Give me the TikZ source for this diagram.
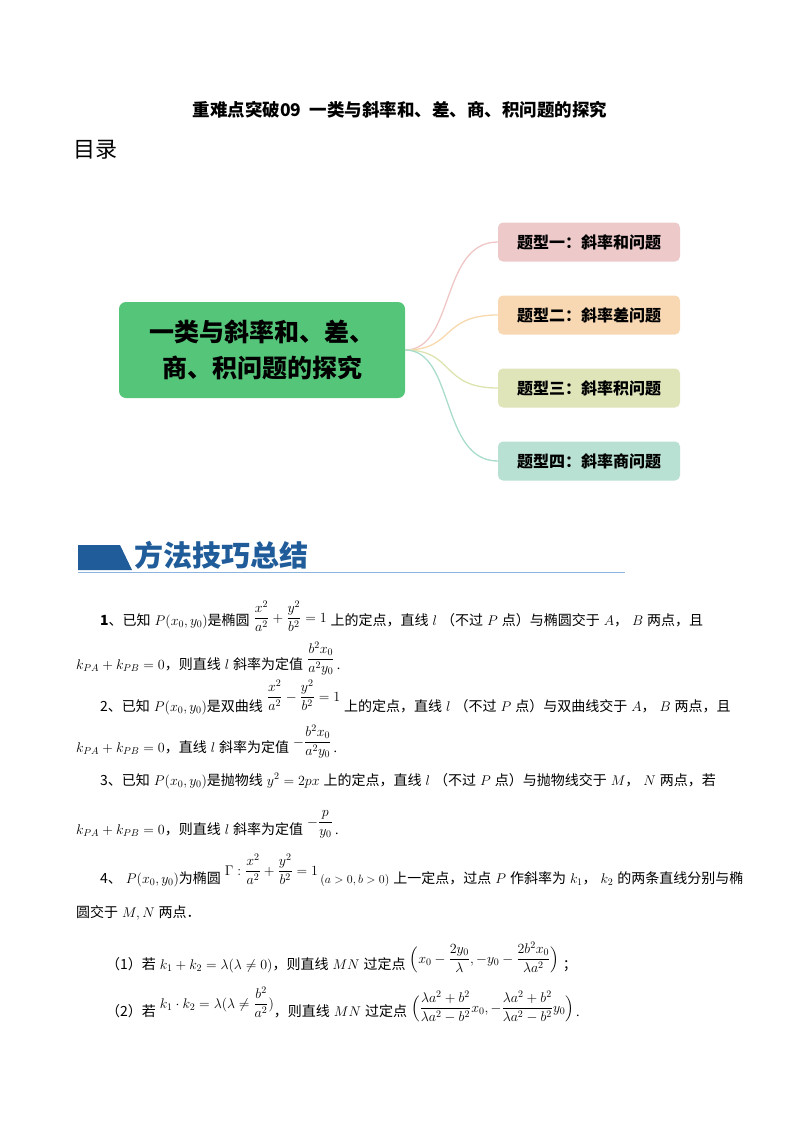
\documentclass[tikz,border=0pt]{standalone}
\usepackage{fix-cm}
\usepackage{amsmath}
\usepackage{fontspec}
\setmainfont{Liberation Serif}
\newfontfamily\cjk{Noto Sans CJK SC}
\newcommand{\zh}[1]{{\cjk #1}}
\newcommand{\gp}{\hspace{4pt}}
\DeclareMathSizes{14}{14}{10}{8}
\usetikzlibrary{positioning}
\definecolor{gbox}{HTML}{55C57A}
\definecolor{b1}{HTML}{EDC9CA}\definecolor{l1}{HTML}{F0C6C6}
\definecolor{b2}{HTML}{F8D8B3}\definecolor{l2}{HTML}{F8D9AE}
\definecolor{b3}{HTML}{DFE4B9}\definecolor{l3}{HTML}{DDE3AE}
\definecolor{b4}{HTML}{B8E0D3}\definecolor{l4}{HTML}{A9DCCC}
\definecolor{hblue}{HTML}{1F5C99}
\definecolor{hline}{HTML}{8DB4E0}
\begin{document}
\begin{tikzpicture}[x=1pt,y=-1pt,
  topic/.style={rounded corners=5pt,minimum width=182pt,minimum height=39pt,font=\cjk\bfseries\fontsize{16}{18}\selectfont},
  link/.style={line width=1.3pt},
  body/.style={anchor=base west,inner sep=0pt,font=\fontsize{14}{16}\selectfont}]
\useasboundingbox (0,0) rectangle (800,1132);
\node (title) at (400,110) {\cjk\bfseries\fontsize{17.5}{20}\selectfont 重难点突破09\ \ 一类与斜率和、差、商、积问题的探究};
\node[anchor=west] (ml) at (70,150) {\cjk\fontsize{22}{24}\selectfont 目录};
\node[fill=gbox,rounded corners=7pt,minimum width=286pt,minimum height=96pt,align=center,font=\cjk\bfseries\fontsize{25}{36}\selectfont] (c) at (262,350) {一类与斜率和、差、\\商、积问题的探究};
\node[topic,fill=b1] (t1) at (589,242) {题型一：斜率和问题};
\node[topic,fill=b2] (t2) at (589,315) {题型二：斜率差问题};
\node[topic,fill=b3] (t3) at (589,388) {题型三：斜率积问题};
\node[topic,fill=b4] (t4) at (589,461) {题型四：斜率商问题};
\coordinate (o) at (c.east);
\draw[link,l1] (o) .. controls (455,350) and (440,242) .. (t1.west);
\draw[link,l2] (o) .. controls (455,350) and (440,315) .. (t2.west);
\draw[link,l3] (o) .. controls (455,350) and (440,388) .. (t3.west);
\draw[link,l4] (o) .. controls (455,350) and (440,461) .. (t4.west);
% header
\fill[hblue] (78,545) -- (120,545) -- (132,570) -- (78,570) -- cycle;
\draw[hline,line width=1pt] (78,572) -- (625,572);
\node[anchor=base west,inner sep=0pt,text=hblue] (hd) at (134,566) {\cjk\bfseries\fontsize{29}{30}\selectfont 方法技巧总结};
% body
\node[body] (l1) at (100,625) {\zh{\textbf{1}、已知}\gp$P(x_0,y_0)$\zh{是椭圆}\gp\raisebox{3pt}{$\dfrac{x^2}{a^2}+\dfrac{y^2}{b^2}=1$}\gp\zh{上的定点，直线}\gp$l$\gp\zh{（不过}\gp$P$\gp\zh{点）与椭圆交于}\gp$A$\zh{，}\gp$B$\gp\zh{两点，且}};
\node[body] (l2) at (76,669) {$k_{PA}+k_{PB}=0$\zh{，则直线}\gp$l$\gp\zh{斜率为定值}\gp\raisebox{6pt}{$\dfrac{b^2x_0}{a^2y_0}$}\,.};
\node[body] (l3) at (100,711) {\zh{2、已知}\gp$P(x_0,y_0)$\zh{是双曲线}\gp\raisebox{10pt}{$\dfrac{x^2}{a^2}-\dfrac{y^2}{b^2}=1$}\gp\zh{上的定点，直线}\gp$l$\gp\zh{（不过}\gp$P$\gp\zh{点）与双曲线交于}\gp$A$\zh{，}\gp$B$\gp\zh{两点，且}};
\node[body] (l4) at (76,752) {$k_{PA}+k_{PB}=0$\zh{，直线}\gp$l$\gp\zh{斜率为定值}\gp\raisebox{6pt}{$-\dfrac{b^2x_0}{a^2y_0}$}\,.};
\node[body] (l5) at (100,785) {\zh{3、已知}\gp$P(x_0,y_0)$\zh{是抛物线}\gp$y^2=2px$\gp\zh{上的定点，直线}\gp$l$\gp\zh{（不过}\gp$P$\gp\zh{点）与抛物线交于}\gp$M$\zh{，}\gp$N$\gp\zh{两点，若}};
\node[body] (l6) at (76,834) {$k_{PA}+k_{PB}=0$\zh{，则直线}\gp$l$\gp\zh{斜率为定值}\gp\raisebox{8pt}{$-\dfrac{p}{y_0}$}\,.};
\node[body] (l7) at (100,883) {\zh{4、}\gp$P(x_0,y_0)$\zh{为椭圆}\gp\raisebox{8pt}{$\Gamma:\dfrac{x^2}{a^2}+\dfrac{y^2}{b^2}=1$}\,{\fontsize{12}{13}\selectfont$(a>0,b>0)$}\gp\zh{上一定点，过点}\gp$P$\gp\zh{作斜率为}\gp$k_1$\zh{，}\gp$k_2$\gp\zh{的两条直线分别与椭}};
\node[body] (l8) at (76,917) {\zh{圆交于}\gp$M,N$\gp\zh{两点．}};
\node[body] (l9) at (106,969) {\zh{（1）若}\gp$k_1+k_2=\lambda(\lambda\neq0)$\zh{，则直线}\gp$MN$\gp\zh{过定点}\gp\raisebox{6pt}{$\Bigl(x_0-\dfrac{2y_0}{\lambda},-y_0-\dfrac{2b^2x_0}{\lambda a^2}\Bigr)$}\gp\zh{；}};
\node[body] (l10) at (106,1016) {\zh{（2）若}\gp\raisebox{8pt}{$k_1\cdot k_2=\lambda(\lambda\neq\dfrac{b^2}{a^2})$}\zh{，则直线}\gp$MN$\gp\zh{过定点}\gp\raisebox{4pt}{$\Bigl(\dfrac{\lambda a^2+b^2}{\lambda a^2-b^2}x_0,-\dfrac{\lambda a^2+b^2}{\lambda a^2-b^2}y_0\Bigr)$}\,.};
\end{tikzpicture}
\end{document}
